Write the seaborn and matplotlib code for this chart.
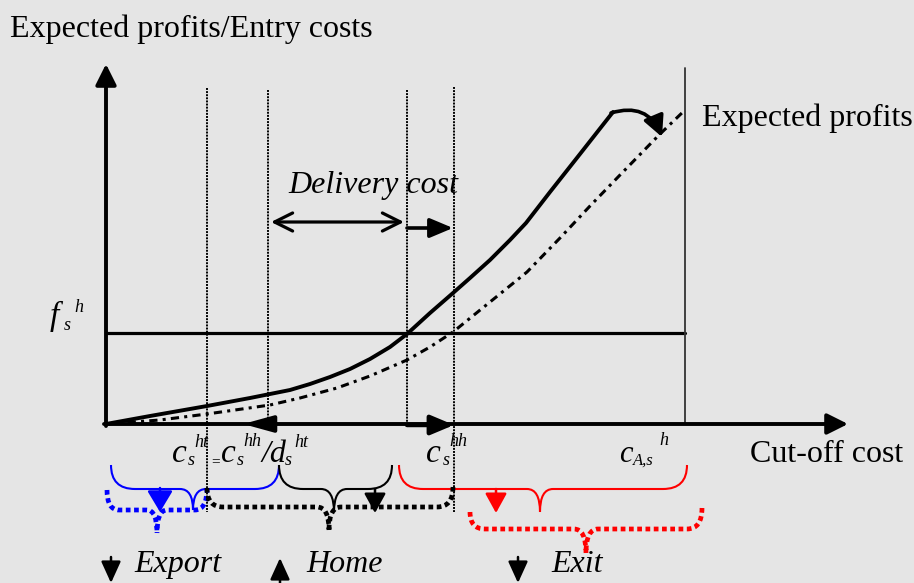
import matplotlib
matplotlib.use("Agg")
import matplotlib.pyplot as plt
import seaborn as sns
from matplotlib.path import Path
from matplotlib.patches import PathPatch

# ---------------- data (diagram coordinates, y grows downward) ----------------
# expected profits curve (home market, solid)
home_profit_x = [106, 150, 207, 250, 290, 310, 330, 350, 370, 390, 407, 430, 453, 470,
                 490, 510, 526, 550, 580, 613]
home_profit_y = [424, 416, 406, 398, 390, 384, 377, 369, 359, 347, 334, 313, 293, 278,
                 260, 240, 223, 192, 154, 112]
# expected profits curve after shift (dash-dot)
shift_profit_x = [106, 160, 207, 270, 300, 337, 370, 407, 430, 453, 490, 527, 560, 590,
                  620, 659, 685]
shift_profit_y = [424, 420, 414, 405, 398, 388, 376, 360, 347, 332, 302, 272, 238, 206,
                  175, 135, 110]
# entry cost level f_s^h
entry_cost_x = [106, 685]
entry_cost_y = [333, 333]
# cut-off cost markers on the horizontal axis
cutoff_ht = 207        # c_s^ht
cutoff_hh_d = 268      # c_s^hh / d_s^ht
cutoff_star = 407
cutoff_hh = 454        # c_s^hh
cutoff_A = 685         # c_A,s^h

BG = "#e5e5e5"
sns.set_theme(style="white")
plt.rcParams["font.family"] = ["Liberation Serif", "DejaVu Serif"]

fig = plt.figure(figsize=(9.14, 5.83), dpi=100, facecolor=BG)
ax = fig.add_axes([0, 0, 1, 1])
ax.set_xlim(0, 914)
ax.set_ylim(583, 0)
ax.set_axis_off()


def arrow(tail, tip, lw=2.0, color="black", hl=0.8, hw=0.4, ms=14, style="-|>"):
    ax.annotate("", xy=tip, xytext=tail, annotation_clip=False,
                arrowprops=dict(arrowstyle=f"{style},head_length={hl},head_width={hw}",
                                lw=lw, color=color, mutation_scale=ms,
                                shrinkA=0, shrinkB=0))


def brace(x0, x1, xc, yl, yr, ymid, ytip, re, rc, color, lw, dotted=False):
    verts = [(x0, yl), (x0, ymid), (x0 + re, ymid), (xc - rc, ymid), (xc, ymid), (xc, ytip),
             (x1, yr), (x1, ymid), (x1 - re, ymid), (xc + rc, ymid), (xc, ymid), (xc, ytip)]
    codes = [Path.MOVETO, Path.CURVE3, Path.CURVE3, Path.LINETO, Path.CURVE3, Path.CURVE3] * 2
    p = PathPatch(Path(verts, codes), fill=False, edgecolor=color, lw=lw,
                  linestyle=(0, (1, 0.75)) if dotted else "-")
    p.set_capstyle("butt")
    ax.add_patch(p)


# ---------------- curves ----------------
sns.lineplot(x=home_profit_x, y=home_profit_y, sort=False, estimator=None,
             color="black", lw=2.8, ax=ax)
sns.lineplot(x=shift_profit_x, y=shift_profit_y, sort=False, estimator=None,
             color="black", lw=2.2, linestyle=(0, (2.7, 1.7, 1.0, 1.7)), ax=ax)
sns.lineplot(x=entry_cost_x, y=entry_cost_y, sort=False, estimator=None,
             color="black", lw=2.3, ax=ax)

# vertical reference lines
for xv, y0, y1 in [(cutoff_ht, 88, 512), (cutoff_hh_d, 90, 424),
                   (cutoff_star, 90, 424), (cutoff_hh, 87, 512)]:
    ax.plot([xv, xv], [y0, y1], color="black", lw=1.4, linestyle=(0, (1, 0.6)))
ax.plot([cutoff_A, cutoff_A], [68, 424], color="#333333", lw=1.3)

# axes with arrows
arrow((106, 426), (106, 64), lw=2.8, hl=0.9, hw=0.45, ms=14)
arrow((104, 424), (848, 424), lw=2.8, hl=0.9, hw=0.45, ms=14)

# arrows on horizontal axis
arrow((cutoff_hh_d, 424), (243, 424), lw=2.8, hl=1.2, hw=0.33, ms=15)
arrow((cutoff_star, 425), (cutoff_hh, 425), lw=3.2, hl=1.0, hw=0.42, ms=14)

# delivery cost arrows
arrow((cutoff_hh_d + 3, 222), (cutoff_star - 3, 222), lw=2.3, hl=1.0, hw=0.5, ms=13, style="<->")
arrow((cutoff_star, 228), (cutoff_hh - 1, 228), lw=2.6, hl=1.0, hw=0.42, ms=14)

# curved arrow from solid to dash-dot curve
ax.annotate("", xy=(662, 137), xytext=(611, 113),
            arrowprops=dict(arrowstyle="-|>,head_length=0.9,head_width=0.45", lw=2.6,
                            color="black", mutation_scale=14, shrinkA=0, shrinkB=0,
                            connectionstyle="arc3,rad=-0.45"))

# ---------------- braces ----------------
brace(111, 279, 193, 465, 465, 489, 510, 24, 13, "#0000ff", 1.5)
brace(279, 392, 334, 465, 465, 489, 512, 24, 13, "black", 1.5)
brace(399, 687, 540, 465, 465, 489, 512, 24, 13, "#ff0000", 1.5)

brace(107, 207, 157, 490, 488, 510, 533, 12, 10, "#0000ff", 3.4, dotted=True)
brace(207, 453, 329, 488, 487, 507, 530, 16, 12, "black", 3.4, dotted=True)
brace(470, 702, 586, 512, 508, 529, 553, 15, 12, "#ff0000", 3.4, dotted=True)

# small direction arrows
arrow((160, 488), (160, 512), lw=1.8, color="#0000ff", hl=1.0, hw=0.6, ms=13)
arrow((375, 489), (375, 513), lw=1.8, color="black", hl=1.0, hw=0.55, ms=12)
arrow((496, 489), (496, 513), lw=1.8, color="#ff0000", hl=1.0, hw=0.55, ms=12)

# legend arrows at the bottom
arrow((111, 557), (111, 583), lw=1.8, hl=1.1, hw=0.5, ms=12)
arrow((280, 590), (280, 558), lw=1.8, hl=1.1, hw=0.5, ms=12)
arrow((518, 557), (518, 583), lw=1.8, hl=1.1, hw=0.5, ms=12)

# ---------------- text ----------------
def T(x, y, s, size=23, style="normal", **kw):
    ax.text(x, y, s, fontsize=size, fontstyle=style, ha="left", va="baseline",
            color="black", **kw)

T(10, 37, "Expected profits/Entry costs")
T(702, 126, "Expected profits")
T(750, 462, "Cut-off cost")
T(288, 193, "Delivery cost", style="italic")

T(50, 325, "f", size=24, style="italic")
T(64, 330, "s", size=13, style="italic")
T(74, 312, "h", size=13, style="italic")

T(172, 462, "c", size=24, style="italic")
T(188, 465, "s", size=13, style="italic")
T(194, 447, "ht", size=13, style="italic")
T(211, 465, "=", size=11)
T(221, 462, "c", size=24, style="italic")
T(237, 465, "s", size=13, style="italic")
T(243, 446, "hh", size=13, style="italic")
T(261, 462, "/d", size=23, style="italic")
T(285, 465, "s", size=13, style="italic")
T(294, 447, "ht", size=13, style="italic")

T(426, 462, "c", size=24, style="italic")
T(443, 465, "s", size=13, style="italic")
T(449, 446, "hh", size=13, style="italic")

T(619, 462, "c", size=22, style="italic")
T(633, 465, "A,s", size=12, style="italic")
T(659, 445, "h", size=13, style="italic")

T(134, 572, "Export", style="italic")
T(306, 572, "Home", style="italic")
T(551, 572, "Exit", style="italic")

fig.savefig("out.png", dpi=100, facecolor=BG)
